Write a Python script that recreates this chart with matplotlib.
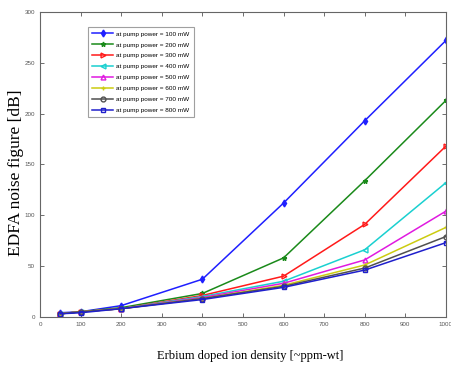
import numpy as np
import matplotlib
matplotlib.use("Agg")
import matplotlib.pyplot as plt

density = [50, 100, 200, 400, 600, 800, 1000]

nf_100 = [4, 5, 11, 37, 112, 193, 272]
nf_200 = [3, 5, 9, 23, 58, 134, 213]
nf_300 = [3, 5, 8, 21, 40, 91, 168]
nf_400 = [3, 5, 8, 20, 35, 66, 132]
nf_500 = [3, 5, 8, 19, 33, 56, 104]
nf_600 = [3, 5, 8, 18, 31, 51, 88]
nf_700 = [3, 5, 8, 18, 30, 48, 79]
nf_800 = [3, 4, 8, 17, 29, 46, 73]

labels = ["at pump power = 100 mW", "at pump power = 200 mW", "at pump power = 300 mW",
          "at pump power = 400 mW", "at pump power = 500 mW", "at pump power = 600 mW",
          "at pump power = 700 mW", "at pump power = 800 mW"]
series = [nf_100, nf_200, nf_300, nf_400, nf_500, nf_600, nf_700, nf_800]
colors = ["#1f1fff", "#1a8a1a", "#ff1a1a", "#1ad0d0", "#e01ae0", "#cccc10", "#505050", "#1f1fcc"]
markers = ["d", "*", ">", "<", "^", "+", "o", "s"]

fig = plt.figure(figsize=(4.52, 3.65), dpi=100)
ax = fig.add_axes([0.0885, 0.132, 0.898, 0.835])

for y, c, m, lab in zip(series, colors, markers, labels):
    ax.plot(density, y, color=c, marker=m, markersize=3.5, linewidth=1.1,
            markerfacecolor="none" if m in ("s", "o", ">", "<", "^") else c,
            markeredgewidth=1.0, label=lab)

ax.set_xlim(0, 1000)
ax.set_ylim(0, 300)
ax.set_xticks(np.arange(0, 1001, 100))
ax.set_yticks(np.arange(0, 301, 50))
ax.tick_params(direction="in", length=3, labelsize=4.5, colors="#555555",
               top=True, right=True, labeltop=False, labelright=False, width=0.6)
for lbl in ax.get_xticklabels() + ax.get_yticklabels():
    lbl.set_family(["Liberation Sans Narrow", "Liberation Sans", "DejaVu Sans"])
for s in ax.spines.values():
    s.set_color("#666666")
    s.set_linewidth(0.8)

ax.set_xlabel("Erbium doped ion density [~ppm-wt]", family="Liberation Serif", fontsize=9)
ax.set_ylabel("EDFA noise figure [dB]", family="Liberation Serif", fontsize=12.5)
ax.xaxis.set_label_coords(0.517, -0.108)
ax.yaxis.set_label_coords(-0.04, 0.472)

leg = ax.legend(loc="upper left", bbox_to_anchor=(0.118, 0.952),
                prop={"family": ["Liberation Sans Narrow", "Liberation Sans"], "size": 4.6},
                frameon=True, fancybox=False, borderpad=0.7, labelspacing=0.85,
                handlelength=3.3, handletextpad=0.4, borderaxespad=0)
leg.get_frame().set_edgecolor("#888888")
leg.get_frame().set_linewidth(0.8)

fig.savefig("out.png", dpi=100)
